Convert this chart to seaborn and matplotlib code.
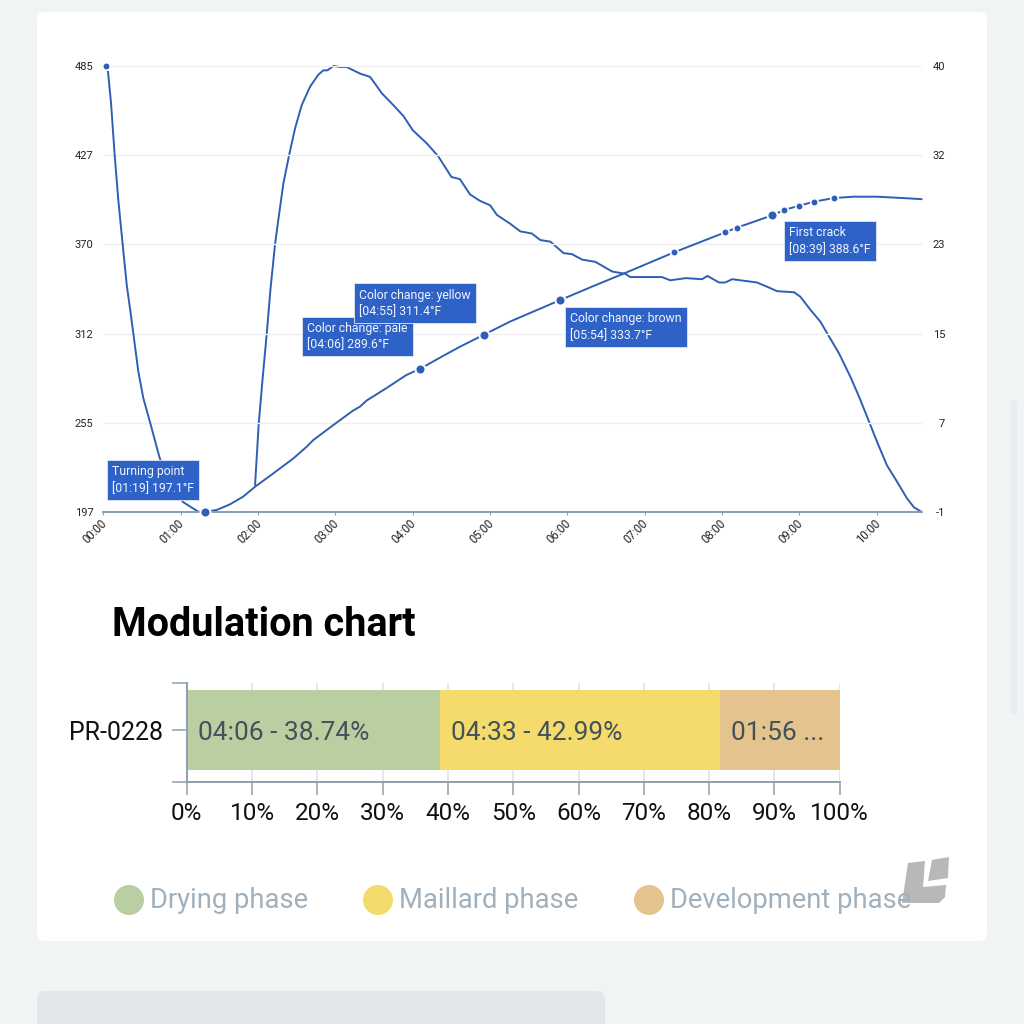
import numpy as np
import pandas as pd
import seaborn as sns
from matplotlib import pyplot as plt
from matplotlib.patches import Circle, FancyBboxPatch, Polygon
from matplotlib.transforms import ScaledTranslation

# bean temperature curve (minutes, degrees F)
bt_time = [0.03, 0.061, 0.1, 0.147, 0.194, 0.25, 0.303, 0.345, 0.388, 0.453, 0.517, 0.604, 0.728, 0.85, 0.95,
           1.035, 1.228, 1.317, 1.465, 1.64, 1.81, 1.962, 2.2, 2.457, 2.63, 2.716, 2.97, 3.23, 3.317, 3.405, 3.66,
           3.92, 4.1, 4.4, 4.61, 4.917, 5.26, 5.9, 6.34, 6.73, 7.375, 8.04, 8.19, 8.65, 8.8, 8.996, 9.19,
           9.44, 9.7, 10.0, 10.35, 10.58]
bt_temp = [485, 481.3, 461, 427.5, 398.5, 370, 343.6, 328.5, 312.4, 287.6, 270.6, 255, 232, 217, 208,
           203.3, 197.2, 197.1, 198.3, 202, 207, 213.3, 222, 231.6, 239.2, 243.5, 253, 262.5, 265, 269, 277,
           285.5, 289.6, 298, 303.7, 311.4, 320, 333.7, 343, 351, 364.6, 377.6, 380.6, 388.6, 392, 394.8, 397.4,
           399.7, 400.6, 400.6, 399.7, 399]

# rate of rise curve
ror_time = [1.962, 2.01, 2.06, 2.113, 2.16, 2.22, 2.267, 2.328, 2.402, 2.48, 2.565, 2.673, 2.78, 2.845,
            2.897, 2.975, 3.06, 3.147, 3.233, 3.32, 3.448, 3.51, 3.6, 3.75, 3.88, 4.0, 4.18, 4.33, 4.5, 4.61, 4.74,
            4.87, 5.0, 5.09, 5.26, 5.39, 5.54, 5.65, 5.78, 5.95, 6.06, 6.19, 6.36, 6.58, 6.75, 6.81,
            6.99, 7.22, 7.33, 7.53, 7.74, 7.81, 7.96, 8.04, 8.13, 8.45, 8.6, 8.71, 8.93, 9.01, 9.14,
            9.27, 9.36, 9.51, 9.66, 9.77, 9.9, 10.0, 10.13, 10.26, 10.39, 10.48, 10.58]
ror_value = [1.48, 7.2, 11.3, 15.4, 19.4, 23.6, 26.1, 29.2, 31.8, 34.3, 36.4, 38.1, 39.2, 39.6,
             39.6, 40, 39.9, 39.9, 39.6, 39.3, 39, 38.4, 37.5, 36.4, 35.4, 34.1, 32.9, 31.7, 29.8, 29.6, 28.2,
             27.6, 27.2, 26.3, 25.5, 24.8, 24.6, 24, 23.85, 22.8, 22.7, 22.2, 22, 21.1, 20.9, 20.6,
             20.6, 20.6, 20.3, 20.5, 20.4, 20.7, 20.1, 20.1, 20.4, 20.1, 19.65, 19.3, 19.2, 18.8, 17.6,
             16.5, 15.4, 13.6, 11.4, 9.6, 7.3, 5.5, 3.3, 1.8, 0.25, -0.57, -1]

# labelled roast events
event_time = [1.317, 4.1, 4.917, 5.9, 8.65]
event_temp = [197.1, 289.6, 311.4, 333.7, 388.6]
event_text = ["Turning point\n[01:19] 197.1°F", "Color change: pale\n[04:06] 289.6°F",
              "Color change: yellow\n[04:55] 311.4°F", "Color change: brown\n[05:54] 333.7°F",
              "First crack\n[08:39] 388.6°F"]

# unlabelled points on the curve
dot_time = [0.03, 7.375, 8.04, 8.19, 8.8, 8.996, 9.19, 9.44]
dot_temp = [485, 364.6, 377.6, 380.6, 392, 394.8, 397.4, 399.7]

time_ticks = list(range(11))
time_labels = [f"{m:02d}:00" for m in time_ticks]
temp_labels = ["197", "255", "312", "370", "427", "485"]
ror_labels = ["-1", "7", "15", "23", "32", "40"]

roast = ["PR-0228"]
phase_names = ["Drying phase", "Maillard phase", "Development phase"]
phase_share = [38.74, 42.99, 18.27]
phase_text = ["04:06 - 38.74%", "04:33 - 42.99%", "01:56 ..."]
pct_ticks = list(range(0, 101, 10))

BLUE = "#2f5fb4"
BOX = "#2e62c6"
AXIS = "#8d9fae"
PHASE_COLORS = ["#b9cfa1", "#f5da6c", "#e5c38f"]
SIZE = 1024


def px_box(x0, y0, x1, y1):
    # pixel box (y from the top) to figure fractions
    return [x0 / SIZE, 1 - y1 / SIZE, (x1 - x0) / SIZE, (y1 - y0) / SIZE]


sns.set_theme(style="white", font="Roboto")
fig = plt.figure(figsize=(10.24, 10.24), dpi=100, facecolor="#f0f4f5")

# page furniture in pixel coordinates
bg = fig.add_axes([0, 0, 1, 1], zorder=0)
bg.set_xlim(0, SIZE)
bg.set_ylim(SIZE, 0)
bg.axis("off")
bg.add_patch(FancyBboxPatch((43, 18), 938, 917, boxstyle="round,pad=6,rounding_size=8", fc="white", ec="none"))
bg.add_patch(FancyBboxPatch((43, 997), 556, 60, boxstyle="round,pad=6,rounding_size=8", fc="#e3e7ea", ec="none"))
bg.add_patch(FancyBboxPatch((1010, 400), 7, 315, boxstyle="round,pad=0,rounding_size=3", fc="#e9edef", ec="none"))
bg.add_patch(Polygon([(908, 863), (925, 861), (923, 887), (946, 885), (945, 897), (939, 903), (902, 903)], fc="#b8b8b8", ec="none"))
bg.add_patch(Polygon([(932, 860), (949, 857), (948, 878), (928, 881)], fc="#b8b8b8", ec="none"))
bg.text(112, 625, "Modulation chart", fontsize=28.5, fontweight="bold", color="black", va="center", ha="left")
for cx, name, col in zip([129, 378, 649], phase_names, PHASE_COLORS):
    bg.add_patch(Circle((cx, 900), 15, fc=col, ec="none"))
    bg.text(cx + 21, 901, name, fontsize=19.7, color="#9fb1be", va="center", ha="left")

# roast curves
ax = fig.add_axes(px_box(103.3, 66, 921.7, 512), zorder=3)
ax2 = ax.twinx()
ax.set_zorder(ax2.get_zorder() + 1)
ax.patch.set_visible(False)
ax2.patch.set_visible(False)

sns.lineplot(x=ror_time, y=ror_value, ax=ax2, color=BLUE, lw=1.4, errorbar=None, estimator=None, sort=False, clip_on=False)
sns.lineplot(x=bt_time, y=bt_temp, ax=ax, color=BLUE, lw=1.4, errorbar=None, estimator=None, sort=False, clip_on=False)
sns.scatterplot(x=dot_time, y=dot_temp, ax=ax, color=BLUE, s=30, edgecolor="white", linewidth=1.2, clip_on=False, zorder=5)
sns.scatterplot(x=event_time, y=event_temp, ax=ax, color=BLUE, s=52, edgecolor="white", linewidth=1.4, clip_on=False, zorder=5)

ax.set_xlim(0, 10.58)
ax.set_ylim(197, 485)
ax2.set_ylim(-1, 40)
ax.set_xticks(time_ticks, time_labels)
ax.set_yticks(np.linspace(197, 485, 6), temp_labels)
ax2.set_yticks(np.linspace(-1, 40, 6), ror_labels)
ax.grid(axis="y", color="#efefef", lw=1)
ax.tick_params(axis="x", bottom=True, length=2.5, width=0.8, color=AXIS, labelsize=8.3, labelcolor="#222222", pad=1)
ax.tick_params(axis="y", left=False, length=0, labelsize=8, labelcolor="#222222", pad=7)
ax2.tick_params(axis="y", right=False, length=0, labelsize=8, labelcolor="#222222", pad=17)
# rotated time labels sit a bit left of their tick
nudge = ScaledTranslation(-3 / 100, 0, fig.dpi_scale_trans)
for lab in ax.get_xticklabels():
    lab.set(rotation=45, ha="right", rotation_mode="anchor")
    lab.set_transform(lab.get_transform() + nudge)
for lab in ax2.get_yticklabels():
    lab.set_ha("right")
for a in (ax, ax2):
    sns.despine(ax=a, left=True, right=True, top=True)
    a.spines["bottom"].set(color=AXIS, lw=1.4)
    a.set_xlabel("")
    a.set_ylabel("")

# text offset from each event marker, pixels
offsets = [(-93, 32), (-113, 32), (-124.5, 31.5), (10.7, -26.5), (17, -25.5)]
for t, v, txt, off in zip(event_time, event_temp, event_text, offsets):
    ax.annotate(txt, xy=(t, v), xytext=off, textcoords="offset pixels", fontsize=8.8, color="#f2f6ff",
                va="center", ha="left", linespacing=1.35, annotation_clip=False, zorder=6,
                bbox=dict(boxstyle="square,pad=0.42", fc=BOX, ec="#dfe8f7", lw=0.6))

# modulation bar, widest cumulative first so the shorter ones sit on top
bar = fig.add_axes(px_box(186.7, 682.7, 839.7, 781.7), zorder=2)
cumulative = np.cumsum(phase_share)
for val, col in zip(cumulative[::-1], PHASE_COLORS[::-1]):
    df = pd.DataFrame({"share": [val], "roast": roast})
    sns.barplot(data=df, x="share", y="roast", color=col, saturation=1, width=0.81, linewidth=0, ax=bar, zorder=2)

bar.set_xlim(0, 100)
bar.set_ylim(0.52, -0.48)
bar.set_xlabel("")
bar.set_ylabel("")
bar.set_xticks(pct_ticks, [f"{p}%" for p in pct_ticks])
bar.set_yticks([0], roast)
bar.set_yticks(list(bar.get_ylim()), minor=True)
bar.set_axisbelow(True)
bar.grid(axis="x", color="#dde4ea", lw=1.2)
bar.tick_params(axis="x", bottom=True, length=9.4, width=1.1, color=AXIS, labelsize=17.5, labelcolor="#111111", pad=5)
bar.tick_params(axis="y", which="major", left=True, length=10.8, width=1.1, color=AXIS, labelsize=18, labelcolor="#111111", pad=6)
bar.tick_params(axis="y", which="minor", left=True, length=10.8, width=1.1, color=AXIS)
sns.despine(ax=bar, top=True, right=True)
bar.spines["left"].set(color=AXIS, lw=1.4)
bar.spines["bottom"].set(color=AXIS, lw=1.4)

starts = np.concatenate([[0], cumulative[:-1]])
for s, txt in zip(starts, phase_text):
    bar.annotate(txt, xy=(s, 0), xytext=(11, -3), textcoords="offset pixels", fontsize=19,
                 color="#435259", va="center", ha="left")

fig.savefig("out.png", dpi=100, facecolor=fig.get_facecolor())
